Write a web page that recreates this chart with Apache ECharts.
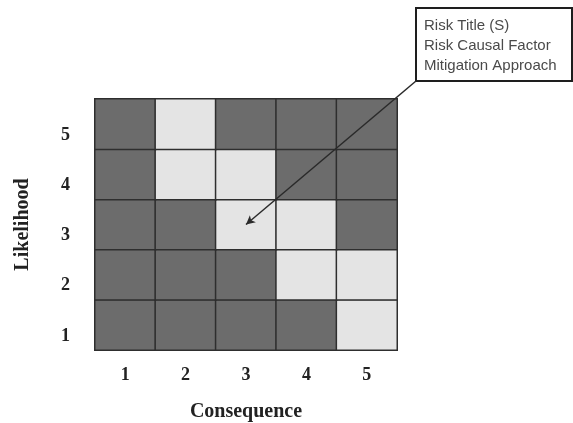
<!DOCTYPE html>
<html>
<head>
<meta charset="utf-8">
<script src="https://cdn.jsdelivr.net/npm/echarts@6/dist/echarts.min.js"></script>
<style>html,body{margin:0;padding:0;background:#fff;}#c{width:573px;height:423px;}</style>
</head>
<body>
<div id="c"></div>
<script>
const consequence = ['1', '2', '3', '4', '5'];
const likelihood = ['1', '2', '3', '4', '5'];
// zone per cell: 1 = light, 0 = dark; rows = likelihood 1..5, columns = consequence 1..5
const zoneL1 = [0, 0, 0, 0, 1];
const zoneL2 = [0, 0, 0, 1, 1];
const zoneL3 = [0, 0, 1, 1, 0];
const zoneL4 = [0, 1, 1, 0, 0];
const zoneL5 = [0, 1, 0, 0, 0];
const annotationLines = ['Risk Title (S)', 'Risk Causal Factor', 'Mitigation Approach'];
const pointedCell = ['3', '3'];

const zones = [zoneL1, zoneL2, zoneL3, zoneL4, zoneL5];
const data = [];
zones.forEach((row, yi) => row.forEach((v, xi) => data.push([xi, yi, v])));

const chart = echarts.init(document.getElementById('c'), null, { renderer: 'canvas' });
const serif = '"Liberation Serif", "Times New Roman", serif';
chart.setOption({
  backgroundColor: '#ffffff',
  animation: false,
  grid: { left: 95, right: 176, top: 99, bottom: 73, containLabel: false, outerBoundsMode: 'none' },
  xAxis: {
    type: 'category', data: consequence,
    name: 'Consequence', nameLocation: 'middle', nameGap: 52,
    nameTextStyle: { fontFamily: serif, fontWeight: 'bold', fontSize: 20, color: '#222' },
    axisLine: { show: false }, axisTick: { show: false }, splitLine: { show: false },
    axisLabel: { fontFamily: serif, fontWeight: 'bold', fontSize: 18, color: '#222', margin: 16 }
  },
  yAxis: {
    type: 'category', data: likelihood,
    name: 'Likelihood', nameLocation: 'middle', nameGap: 62, nameRotate: 90,
    nameTextStyle: { fontFamily: serif, fontWeight: 'bold', fontSize: 20, color: '#222' },
    axisLine: { show: false }, axisTick: { show: false }, splitLine: { show: false },
    axisLabel: { fontFamily: serif, fontWeight: 'bold', fontSize: 18, color: '#222', margin: 25, verticalAlign: 'top', padding: [2, 0, 0, 0] }
  },
  visualMap: {
    show: false, type: 'piecewise', dimension: 2,
    pieces: [{ value: 0, color: '#6c6c6c' }, { value: 1, color: '#e4e4e4' }]
  },
  series: [{
    type: 'heatmap',
    data: data,
    itemStyle: { borderColor: '#2e2e2e', borderWidth: 1.5 },
    label: { show: false },
    emphasis: { disabled: true },
    markLine: {
      silent: true,
      symbol: ['arrow', 'none'],
      symbolSize: [7, 9],
      label: { show: false },
      lineStyle: { color: '#2a2a2a', width: 1.5, type: 'solid' },
      data: [[{ coord: pointedCell }, { x: 416, y: 81 }]]
    }
  }],
  graphic: [{
    type: 'group', left: 415, top: 7,
    children: [
      { type: 'rect', shape: { x: 0, y: 0, width: 156, height: 73 }, style: { fill: '#fff', stroke: '#1e1e1e', lineWidth: 2 } },
      { type: 'text', x: 8, y: 8, style: { text: annotationLines.join('\n'), font: '15px "Liberation Sans", Arial, sans-serif', fill: '#4a4a4a', lineHeight: 20 } }
    ]
  }]
});
</script>
</body>
</html>
